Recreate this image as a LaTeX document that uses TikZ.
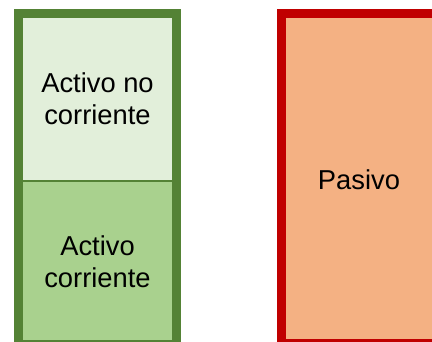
\documentclass[tikz,border=0pt]{standalone}
\usepackage{fontspec}
\setmainfont{Liberation Sans}
\definecolor{gborder}{HTML}{548235}
\definecolor{glight}{HTML}{E2EFDA}
\definecolor{gmid}{HTML}{A9D18E}
\definecolor{rborder}{HTML}{C00000}
\definecolor{rfill}{HTML}{F4B183}
\tikzset{
  lbl/.style={align=center, font=\fontsize{20.5}{24}\selectfont, text=black, inner sep=0pt},
}
\begin{document}
\begin{tikzpicture}[x=0.75pt,y=-0.75pt]
\useasboundingbox (0,0) rectangle (432,342);
\clip (0,0) rectangle (432,342);
% green column
\fill[glight] (18.5,13.5) rectangle (176.5,181);
\fill[gmid] (18.5,181) rectangle (176.5,344.5);
\draw[gborder, line width=2pt*0.75] (18.5,181) -- (176.5,181);
\draw[gborder, line width=9*0.75pt] (18.5,13.5) rectangle (176.5,344.5);
% red column
\draw[rborder, fill=rfill, line width=9*0.75pt] (281.5,13.5) rectangle (441,343.5);
% labels
\node[lbl] (anc) at (97.5,99) {Activo no\\corriente};
\node[lbl] (ac) at (97.5,262) {Activo\\corriente};
\node[lbl] (pas) at (359,180) {Pasivo};
\end{tikzpicture}
\end{document}
